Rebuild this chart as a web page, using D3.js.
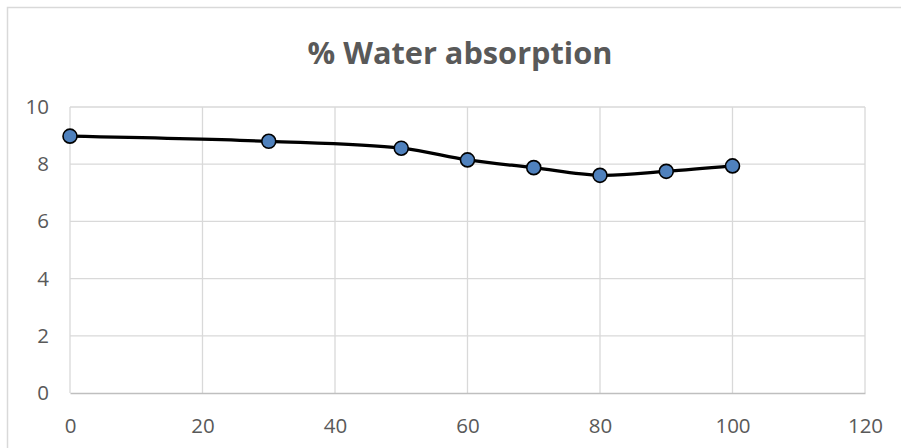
<!DOCTYPE html>
<html><head><meta charset="utf-8">
<script src="https://cdn.jsdelivr.net/npm/d3@7"></script>
<style>body{margin:0;background:#fff}svg{display:block}</style>
</head><body>
<script>
const xValues = [0, 30, 50, 60, 70, 80, 90, 100];
const yValues = [8.98, 8.80, 8.56, 8.15, 7.88, 7.61, 7.75, 7.94];
const xTicks = [0, 20, 40, 60, 80, 100, 120];
const yTicks = [0, 2, 4, 6, 8, 10];
const title = "% Water absorption";

const W = 901, H = 448;
const svg = d3.select("body").append("svg").attr("width", W).attr("height", H);
svg.append("rect").attr("width", W).attr("height", H).attr("fill", "#fff");
svg.append("rect").attr("x", 7.5).attr("y", 7.5).attr("width", 1000).attr("height", 1000)
  .attr("fill", "none").attr("stroke", "#d9d9d9").attr("stroke-width", 1.5);

const x = d3.scaleLinear().domain([0, 120]).range([70, 865]);
const y = d3.scaleLinear().domain([0, 10]).range([393, 107]);

const font = "'Open Sans', sans-serif";
svg.append("g").selectAll("line").data(yTicks.filter(d => d > 0)).join("line")
  .attr("x1", x(0)).attr("x2", x(120)).attr("y1", d => y(d)).attr("y2", d => y(d))
  .attr("stroke", "#d9d9d9").attr("stroke-width", 1.3);
svg.append("g").selectAll("line").data(xTicks).join("line")
  .attr("x1", d => x(d)).attr("x2", d => x(d)).attr("y1", y(0)).attr("y2", y(10))
  .attr("stroke", "#d9d9d9").attr("stroke-width", 1.3);
const xAxis = svg.append("g").attr("transform", `translate(0,${y(0)})`)
  .call(d3.axisBottom(x).tickValues(xTicks).tickSize(0).tickPadding(25));
xAxis.select(".domain").attr("stroke", "#bfbfbf").attr("stroke-width", 1.5);
xAxis.selectAll("text").attr("font-family", font).attr("font-size", 20.5).attr("fill", "#595959");
const yAxis = svg.append("g").attr("transform", `translate(${x(0)},0)`)
  .call(d3.axisLeft(y).tickValues(yTicks).tickSize(0).tickPadding(21));
yAxis.select(".domain").remove();
yAxis.selectAll("text").attr("font-family", font).attr("font-size", 20.5).attr("fill", "#595959");

const pts = xValues.map((v, i) => [v, yValues[i]]);
const line = d3.line().x(d => x(d[0])).y(d => y(d[1])).curve(d3.curveCatmullRom.alpha(0.5));
svg.append("path").attr("d", line(pts)).attr("fill", "none").attr("stroke", "#000").attr("stroke-width", 3.2);
svg.append("g").selectAll("circle").data(pts).join("circle")
  .attr("cx", d => x(d[0])).attr("cy", d => y(d[1])).attr("r", 7)
  .attr("fill", "#4f81bd").attr("stroke", "#000").attr("stroke-width", 1.6);

const t = svg.append("text").attr("x", 460).attr("y", 64).attr("text-anchor", "middle")
  .attr("font-family", font).attr("font-weight", "bold").attr("font-size", 28)
  .attr("fill", "#595959").text(title);
const len = t.node().getComputedTextLength();
t.attr("font-size", 28 * 305 / len);
</script>
</body></html>
